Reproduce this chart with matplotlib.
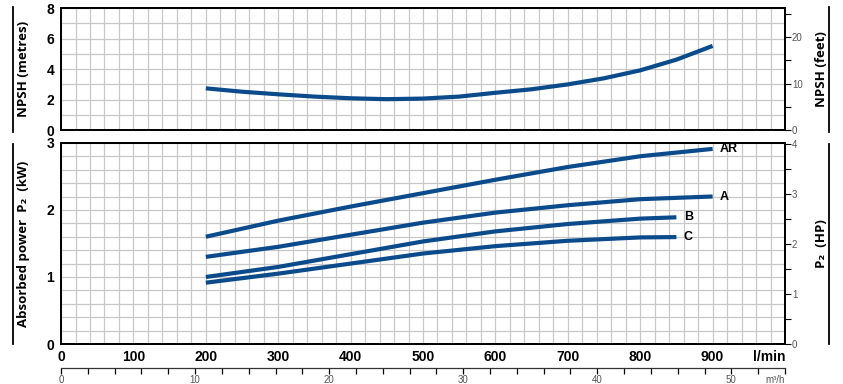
import numpy as np
import matplotlib.pyplot as plt
from matplotlib.lines import Line2D

plt.rcParams['font.family'] = ['Liberation Sans Narrow', 'Liberation Sans', 'DejaVu Sans']

# flow (l/min) and curves
npsh_q = [200, 250, 300, 350, 400, 450, 500, 550, 600, 650, 700, 750, 800, 850, 900]
npsh_m = [2.74, 2.52, 2.35, 2.20, 2.09, 2.03, 2.07, 2.20, 2.45, 2.68, 3.00, 3.40, 3.92, 4.62, 5.52]

q_long = [200, 300, 400, 500, 600, 700, 800, 900]
q_short = [200, 300, 400, 500, 600, 700, 800, 850]
p_ar = [1.60, 1.84, 2.05, 2.25, 2.45, 2.64, 2.80, 2.91]
p_a = [1.30, 1.45, 1.63, 1.81, 1.96, 2.07, 2.16, 2.20]
p_b = [1.00, 1.15, 1.34, 1.53, 1.68, 1.79, 1.87, 1.89]
p_c = [0.915, 1.05, 1.20, 1.35, 1.46, 1.54, 1.59, 1.595]

x_ticks = list(range(0, 1001, 100))
x_labels = [str(v) for v in range(0, 901, 100)] + ['l/min']
m3h_ticks = list(range(0, 55, 2))
m3h_labels = [str(v) if v % 10 == 0 else '' for v in m3h_ticks[:-1]] + ['m³/h']

BLUE = '#0b4a8b'
GRID = '#c8c8c8'
GRAY = '#555555'
TITLE_FONT = ['Open Sans', 'DejaVu Sans']

fig = plt.figure(figsize=(8.43, 3.84), dpi=100)
ax1 = fig.add_axes([0.0724, 0.661, 0.8588, 0.318])
ax2 = fig.add_axes([0.0724, 0.104, 0.8588, 0.524])


def style(ax, ymax, ystep_minor, ystep_major):
    ax.set_xlim(0, 1000)
    ax.set_ylim(0, ymax)
    ax.set_xticks(x_ticks)
    ax.set_xticks(np.arange(0, 1001, 20), minor=True)
    ax.set_yticks(np.arange(0, ymax + 0.001, ystep_major))
    ax.set_yticks(np.arange(0, ymax + 0.001, ystep_minor), minor=True)
    ax.grid(which='both', color=GRID, lw=0.9)
    ax.set_axisbelow(True)
    for s in ax.spines.values():
        s.set_linewidth(1.3)
        s.set_color('black')
    ax.tick_params(which='both', length=0)
    ax.tick_params(axis='y', labelsize=10, pad=5)
    for t in ax.get_yticklabels():
        t.set_fontweight('bold')


style(ax1, 8, 1, 2)
ax1.tick_params(axis='x', labelbottom=False)
ax1.plot(npsh_q, npsh_m, color=BLUE, lw=3, solid_capstyle='butt', solid_joinstyle='round')

style(ax2, 3, 0.2, 1)
ax2.set_xticklabels(x_labels)
ax2.tick_params(axis='x', labelsize=10, pad=4)
for t in ax2.get_xticklabels():
    t.set_fontweight('bold')
ax2.get_xticklabels()[-1].set_ha('right')

curves = [(q_long, p_ar, 'AR'), (q_long, p_a, 'A'), (q_short, p_b, 'B'), (q_short, p_c, 'C')]
for q, p, name in curves:
    ax2.plot(q, p, color=BLUE, lw=3, solid_capstyle='butt', solid_joinstyle='round')
    ax2.text(q[-1] + 10, p[-1], name, fontsize=9, fontweight='bold', va='center', ha='left')

# right-hand unit axes
tw1 = ax1.twinx()
tw1.set_ylim(0, 8 * 3.2808)
tw1.set_yticks(range(0, 26, 5))
tw1.set_yticklabels(['0', '', '10', '', '20', ''])
tw1.tick_params(axis='y', length=4, width=0.8, labelsize=7, labelcolor=GRAY, pad=1)

tw2 = ax2.twinx()
tw2.set_ylim(0, 3 / 0.7457)
tw2.set_yticks(np.arange(0, 4.01, 0.5))
tw2.set_yticklabels(['0', '', '1', '', '2', '', '3', '', '4'])
tw2.tick_params(axis='y', length=4, width=0.8, labelsize=7, labelcolor=GRAY, pad=1)
for tw in (tw1, tw2):
    for s in tw.spines.values():
        s.set_linewidth(1.3)

# m3/h scale below
ax3 = fig.add_axes([0.0724, 0.042, 0.8588, 0.001])
ax3.set_xlim(0, 54)
ax3.set_ylim(0, 1)
for k in ('top', 'left', 'right'):
    ax3.spines[k].set_visible(False)
ax3.spines['bottom'].set_linewidth(0.9)
ax3.spines['bottom'].set_color('#333333')
ax3.set_yticks([])
ax3.set_xticks(m3h_ticks)
ax3.set_xticklabels(m3h_labels)
ax3.tick_params(axis='x', length=4, width=0.9, labelsize=7, labelcolor=GRAY, pad=1)
ax3.get_xticklabels()[-1].set_ha('right')
ax3.patch.set_visible(False)

# axis titles and side bars
fig.text(0.028, 0.82, 'NPSH (metres)', rotation=90, ha='center', va='center',
         fontsize=9.5, fontweight='bold', family=TITLE_FONT)
fig.text(0.975, 0.82, 'NPSH (feet)', rotation=90, ha='center', va='center',
         fontsize=9.5, fontweight='bold', family=TITLE_FONT)
fig.text(0.028, 0.366, 'Absorbed power  P₂  (kW)', rotation=90, ha='center', va='center',
         fontsize=9.5, fontweight='bold', family=TITLE_FONT)
fig.text(0.975, 0.366, 'P₂  (HP)', rotation=90, ha='center', va='center',
         fontsize=9.5, fontweight='bold', family=TITLE_FONT)

for x in (13 / 843, 829 / 843):
    fig.add_artist(Line2D([x, x], [1 - 132 / 384, 1 - 7 / 384], color='black', lw=1.3))
    fig.add_artist(Line2D([x, x], [1 - 344 / 384, 1 - 144 / 384], color='black', lw=1.3))

fig.savefig('out.png', dpi=100)
